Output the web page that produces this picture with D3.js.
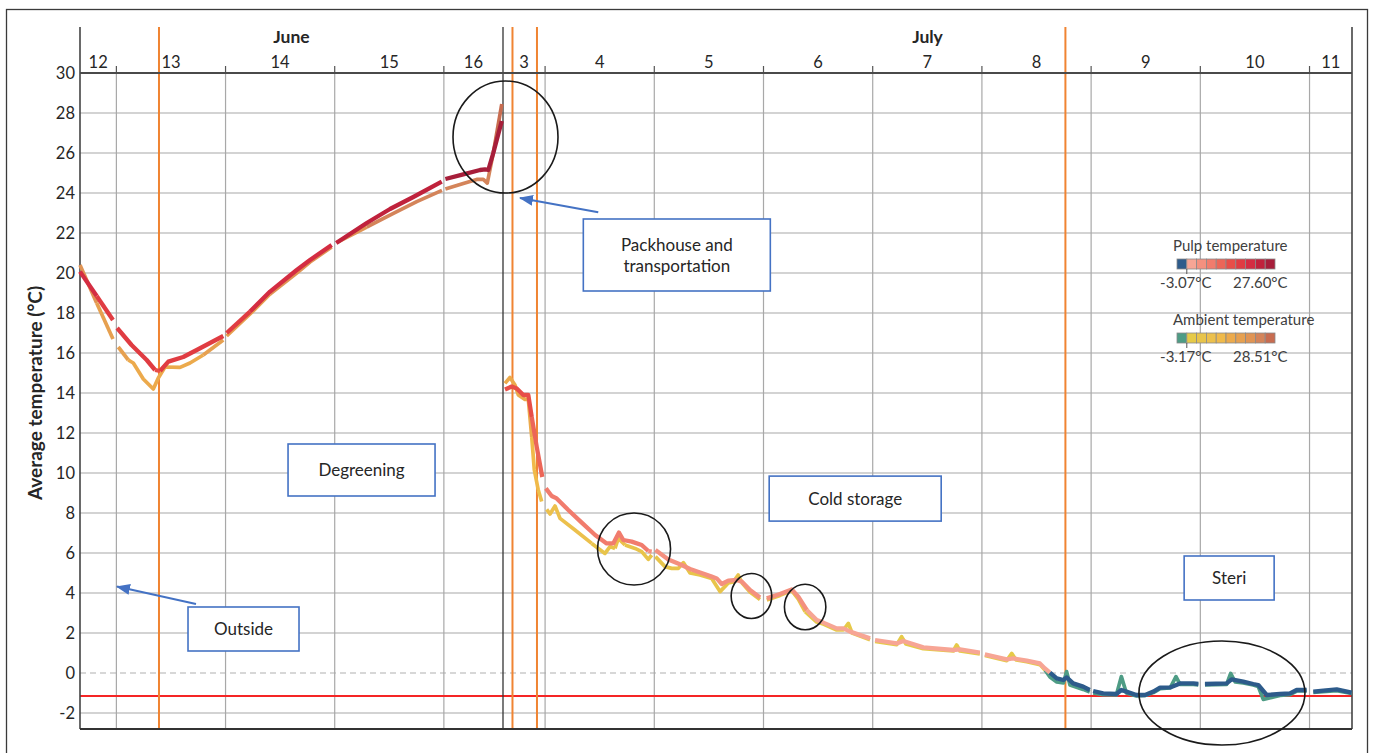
<!DOCTYPE html>
<html>
<head>
<meta charset="utf-8">
<script src="https://cdnjs.cloudflare.com/ajax/libs/d3/7.8.5/d3.min.js"></script>
<style>
  body { margin: 0; background: #fff; }
  svg { display: block; font-family: Lato, "Open Sans", sans-serif; }
</style>
</head>
<body>
<svg id="chart" width="1375" height="753"></svg>
<script>
const parse = d3.timeParse("%m-%d %H:%M");

// two logged periods, drawn side by side
const periods = [["06-12 16:00", "06-16 13:00"], ["07-03 14:45", "07-11 09:20"]];
const months = ["June", "July"];
const yTicks = d3.range(-2, 31, 2);
const stageLines = ["06-13 09:22", "07-03 16:50", "07-03 22:13", "07-08 18:21"];
const limitTemp = -1.15;

const pulpColors = ["#2d5b8b", "#f7a595", "#f4907f", "#f17c6d", "#ec6658", "#e84e48", "#e03c42", "#d42d42", "#c0223c", "#a71e3a"];
const ambientColors = ["#4e9c85", "#e6ca48", "#e8c44a", "#ecc04c", "#f0ba4a", "#ecaa4c", "#e6a050", "#e09454", "#d4845a", "#c86c50"];
const pulpRange = [-3.07, 27.60];
const ambientRange = [-3.17, 28.51];

const pulp = [
  ["06-12 16:00", 20.07], ["06-12 19:40", 18.85], ["06-12 23:15", 17.65],
  ["06-13 00:10", 17.25], ["06-13 03:20", 16.4], ["06-13 06:40", 15.65], ["06-13 08:30", 15.15], ["06-13 09:36", 15.1], ["06-13 11:25", 15.57], ["06-13 14:42", 15.8], ["06-13 17:40", 16.15], ["06-13 20:35", 16.5], ["06-13 23:30", 16.85],
  ["06-14 00:15", 17.0], ["06-14 05:23", 18.07], ["06-14 09:47", 19.07], ["06-14 15:39", 20.15], ["06-14 18:34", 20.65], ["06-14 23:20", 21.4],
  ["06-15 00:20", 21.5], ["06-15 07:02", 22.5], ["06-15 12:10", 23.2], ["06-15 17:17", 23.8], ["06-15 23:32", 24.57],
  ["06-16 00:20", 24.7], ["06-16 04:16", 24.93], ["06-16 07:57", 25.15], ["06-16 09:03", 25.18], ["06-16 09:46", 25.15], ["06-16 10:52", 26.0], ["06-16 12:44", 27.6],
  ["07-03 15:11", 14.18], ["07-03 16:40", 14.32], ["07-03 17:46", 14.23], ["07-03 19:13", 13.9], ["07-03 20:19", 13.9], ["07-03 21:04", 12.8], ["07-03 22:10", 11.3], ["07-03 23:23", 9.8],
  ["07-04 00:10", 9.23], ["07-04 01:27", 8.85], ["07-04 02:33", 8.73], ["07-04 05:06", 8.15], ["07-04 08:03", 7.52], ["07-04 11:00", 6.9], ["07-04 13:32", 6.48], ["07-04 14:59", 6.48], ["07-04 16:14", 7.02], ["07-04 17:11", 6.65], ["07-04 19:02", 6.57], ["07-04 21:14", 6.4], ["07-04 22:41", 6.1], ["07-04 23:26", 6.07],
  ["07-05 00:15", 6.15], ["07-05 03:05", 5.68], ["07-05 06:01", 5.4], ["07-05 07:51", 5.2], ["07-05 10:03", 5.02], ["07-05 12:37", 4.82], ["07-05 13:43", 4.73], ["07-05 14:49", 4.45], ["07-05 16:16", 4.62], ["07-05 18:07", 4.65], ["07-05 19:13", 4.57], ["07-05 21:02", 4.15], ["07-05 23:14", 3.78],
  ["07-06 00:43", 3.73], ["07-06 03:38", 3.95], ["07-06 06:12", 4.18], ["07-06 07:39", 3.82], ["07-06 09:30", 3.15], ["07-06 11:42", 2.65], ["07-06 13:09", 2.52], ["07-06 16:05", 2.23], ["07-06 17:33", 2.23], ["07-06 19:01", 2.07], ["07-06 23:25", 1.73],
  ["07-07 00:31", 1.65], ["07-07 05:17", 1.48], ["07-07 06:44", 1.6], ["07-07 11:07", 1.28], ["07-07 17:43", 1.15], ["07-07 19:11", 1.18], ["07-07 23:33", 1.02],
  ["07-08 00:39", 0.93], ["07-08 05:27", 0.68], ["07-08 06:54", 0.73], ["07-08 09:51", 0.62], ["07-08 12:45", 0.48], ["07-08 13:51", 0.23], ["07-08 14:57", 0.02], ["07-08 16:27", -0.27], ["07-08 17:54", -0.35], ["07-08 18:37", -0.22], ["07-08 20:03", -0.52], ["07-08 22:15", -0.68], ["07-08 23:42", -0.85],
  ["07-09 00:27", -0.9], ["07-09 02:39", -1.02], ["07-09 05:33", -1.05], ["07-09 06:39", -0.85], ["07-09 07:45", -0.93], ["07-09 09:57", -1.1], ["07-09 11:51", -1.1], ["07-09 13:41", -0.93], ["07-09 15:09", -0.73], ["07-09 17:21", -0.72], ["07-09 19:33", -0.52], ["07-09 22:28", -0.52], ["07-09 23:34", -0.55],
  ["07-10 01:01", -0.55], ["07-10 05:47", -0.52], ["07-10 06:53", -0.32], ["07-10 09:26", -0.43], ["07-10 11:38", -0.55], ["07-10 12:44", -0.6], ["07-10 14:35", -1.1], ["07-10 17:30", -1.05], ["07-10 19:42", -1.02], ["07-10 21:10", -0.85], ["07-10 23:22", -0.85],
  ["07-11 00:50", -0.93], ["07-11 03:02", -0.88], ["07-11 05:58", -0.82], ["07-11 09:16", -0.98]
];

const ambient = [
  ["06-12 16:00", 20.4], ["06-12 19:40", 18.5], ["06-12 23:15", 16.7],
  ["06-13 00:25", 16.3], ["06-13 02:37", 15.65], ["06-13 03:43", 15.5], ["06-13 05:55", 14.7], ["06-13 08:07", 14.2], ["06-13 09:13", 14.75], ["06-13 10:41", 15.3], ["06-13 14:00", 15.28], ["06-13 16:11", 15.5], ["06-13 19:06", 15.9], ["06-13 23:30", 16.65],
  ["06-14 00:15", 16.85], ["06-14 05:23", 17.95], ["06-14 09:47", 18.95], ["06-14 15:39", 20.0], ["06-14 18:34", 20.55], ["06-14 23:20", 21.3],
  ["06-15 00:25", 21.52], ["06-15 07:02", 22.3], ["06-15 12:54", 22.98], ["06-15 18:02", 23.57], ["06-15 23:35", 24.13],
  ["06-16 00:20", 24.2], ["06-16 04:16", 24.48], ["06-16 07:13", 24.68], ["06-16 08:40", 24.68], ["06-16 09:33", 24.5], ["06-16 10:52", 26.0], ["06-16 12:44", 28.45],
  ["07-03 15:11", 14.48], ["07-03 16:17", 14.78], ["07-03 17:23", 14.4], ["07-03 18:07", 13.9], ["07-03 19:35", 13.68], ["07-03 20:19", 13.68], ["07-03 21:04", 11.8], ["07-03 21:38", 10.15], ["07-03 22:30", 9.15], ["07-03 23:15", 8.57],
  ["07-04 00:21", 8.18], ["07-04 01:05", 7.95], ["07-04 02:11", 8.35], ["07-04 03:17", 7.73], ["07-04 06:34", 7.15], ["07-04 10:15", 6.48], ["07-04 13:10", 5.98], ["07-04 14:16", 6.32], ["07-04 15:22", 6.23], ["07-04 16:05", 6.73], ["07-04 17:34", 6.4], ["07-04 19:46", 6.23], ["07-04 21:14", 6.07], ["07-04 22:41", 5.68], ["07-04 23:26", 5.9],
  ["07-05 00:15", 5.82], ["07-05 02:21", 5.32], ["07-05 03:50", 5.23], ["07-05 05:17", 5.23], ["07-05 06:23", 5.52], ["07-05 07:51", 5.0], ["07-05 10:03", 4.9], ["07-05 12:37", 4.72], ["07-05 14:27", 4.07], ["07-05 16:16", 4.5], ["07-05 17:20", 4.55], ["07-05 18:26", 4.9], ["07-05 19:18", 4.5], ["07-05 21:02", 4.05], ["07-05 23:14", 3.68],
  ["07-06 00:43", 3.65], ["07-06 03:38", 3.88], ["07-06 06:12", 4.12], ["07-06 07:39", 3.7], ["07-06 09:09", 3.07], ["07-06 11:42", 2.55], ["07-06 13:09", 2.45], ["07-06 16:05", 2.15], ["07-06 17:33", 2.15], ["07-06 18:39", 2.48], ["07-06 19:28", 2.0], ["07-06 23:25", 1.66],
  ["07-07 00:31", 1.58], ["07-07 05:17", 1.42], ["07-07 06:21", 1.82], ["07-07 07:18", 1.45], ["07-07 11:07", 1.22], ["07-07 17:43", 1.1], ["07-07 18:27", 1.4], ["07-07 19:11", 1.1], ["07-07 23:33", 0.96],
  ["07-08 00:39", 0.88], ["07-08 05:27", 0.62], ["07-08 06:34", 0.98], ["07-08 07:28", 0.66], ["07-08 09:51", 0.57], ["07-08 12:45", 0.42], ["07-08 13:51", 0.15], ["07-08 14:57", -0.2], ["07-08 16:27", -0.45], ["07-08 17:54", -0.5], ["07-08 18:37", 0.07], ["07-08 19:21", -0.6], ["07-08 22:15", -0.82], ["07-08 23:42", -0.95],
  ["07-09 00:27", -1.0], ["07-09 02:39", -1.08], ["07-09 05:33", -1.1], ["07-09 06:39", -0.18], ["07-09 07:45", -1.0], ["07-09 09:57", -1.15], ["07-09 11:51", -1.12], ["07-09 13:41", -0.98], ["07-09 15:09", -0.78], ["07-09 17:21", -0.75], ["07-09 18:39", -0.18], ["07-09 19:33", -0.57], ["07-09 22:28", -0.57], ["07-09 23:34", -0.6],
  ["07-10 01:01", -0.6], ["07-10 05:47", -0.57], ["07-10 06:40", -0.02], ["07-10 07:39", -0.45], ["07-10 09:26", -0.5], ["07-10 11:38", -0.6], ["07-10 12:44", -0.68], ["07-10 13:50", -1.32], ["07-10 17:30", -1.12], ["07-10 19:42", -1.08], ["07-10 21:10", -0.9], ["07-10 23:22", -0.9],
  ["07-11 00:50", -0.97], ["07-11 03:02", -0.93], ["07-11 05:58", -0.88], ["07-11 09:16", -1.02]
];

// text boxes, anchored at their centre (time, temperature)
const notes = [
  { lines: ["Packhouse and", "transportation"], t: "07-05 04:57", v: 20.9, w: 187, h: 72 },
  { lines: ["Degreening"], t: "06-15 05:54", v: 10.15, w: 147, h: 52 },
  { lines: ["Cold storage"], t: "07-06 20:09", v: 8.72, w: 172, h: 45 },
  { lines: ["Steri"], t: "07-10 06:20", v: 4.75, w: 90, h: 44 },
  { lines: ["Outside"], t: "06-14 03:57", v: 2.2, w: 111, h: 44 }
];
const arrows = [
  { from: ["07-04 11:41", 23.04], to: ["07-03 18:29", 23.75] },
  { from: ["06-13 17:30", 3.45], to: ["06-13 00:08", 4.32] }
];
const rings = [
  { t: "07-03 15:18", v: 26.8, rx: 52.5, ry: 56 },
  { t: "07-04 19:33", v: 6.2, rx: 36.5, ry: 36 },
  { t: "07-05 21:21", v: 3.85, rx: 20.3, ry: 22.5 },
  { t: "07-06 09:09", v: 3.3, rx: 20.7, ry: 22.8 },
  { t: "07-10 04:45", v: -1.0, rx: 83, ry: 52 }
];

const svg = d3.select("#chart");
const top0 = 27, plotTop = 73, plotBottom = 729, left = 80, right = 1352, split = 503;

const P = periods.map(p => p.map(parse));
const x = d3.scaleTime()
  .domain([P[0][0], P[0][1], P[1][0], P[1][1]])
  .range([left, split, split, right]);
const y = d3.scaleLinear().domain([-2.8, 30]).range([plotBottom, plotTop]);

const pulpColor = d3.scaleQuantize().domain(pulpRange).range(pulpColors);
const ambientColor = d3.scaleQuantize().domain(ambientRange).range(ambientColors);

// outer frame
svg.append("rect").attr("x", 6.5).attr("y", 9.5).attr("width", 1361).attr("height", 760)
  .attr("fill", "none").attr("stroke", "#3a3a3a").attr("stroke-width", 1.3);

// horizontal grid
svg.append("g").selectAll("line").data(yTicks).join("line")
  .attr("x1", left).attr("x2", right)
  .attr("y1", d => y(d)).attr("y2", d => y(d))
  .attr("stroke", d => d === 0 ? "#b0b0b0" : "#c4c4c4")
  .attr("stroke-width", d => d === 0 ? 1.2 : 1.5)
  .attr("stroke-dasharray", d => d === 0 ? "6,4" : null);

// midnight grid + ticks
const midnights = P.flatMap(([a, b]) => d3.timeDay.range(a, b));
svg.append("g").selectAll("line").data(midnights).join("line")
  .attr("x1", d => x(d)).attr("x2", d => x(d))
  .attr("y1", plotTop).attr("y2", plotBottom)
  .attr("stroke", "#a8a8a8").attr("stroke-width", 1.2);
svg.append("g").selectAll("line").data(midnights).join("line")
  .attr("x1", d => x(d)).attr("x2", d => x(d))
  .attr("y1", plotTop - 7).attr("y2", plotTop)
  .attr("stroke", "#555").attr("stroke-width", 1.2);

// limit line
svg.append("line").attr("x1", left).attr("x2", right)
  .attr("y1", y(limitTemp)).attr("y2", y(limitTemp))
  .attr("stroke", "#f52525").attr("stroke-width", 2);

// stage change lines
svg.append("g").selectAll("line").data(stageLines.map(parse)).join("line")
  .attr("x1", d => x(d)).attr("x2", d => x(d))
  .attr("y1", top0).attr("y2", plotBottom)
  .attr("stroke", "#f08432").attr("stroke-width", 2);

// frame lines of the plot
const frame = svg.append("g").attr("fill", "none");
frame.append("line").attr("x1", left).attr("x2", left).attr("y1", top0).attr("y2", plotBottom).attr("stroke", "#444").attr("stroke-width", 1.6);
frame.append("line").attr("x1", right).attr("x2", right).attr("y1", top0).attr("y2", plotBottom).attr("stroke", "#444").attr("stroke-width", 1.6);
frame.append("line").attr("x1", split).attr("x2", split).attr("y1", top0).attr("y2", plotBottom).attr("stroke", "#333").attr("stroke-width", 1.3);
frame.append("line").attr("x1", left).attr("x2", right).attr("y1", plotTop).attr("y2", plotTop).attr("stroke", "#4a4a4a").attr("stroke-width", 2);
frame.append("line").attr("x1", left).attr("x2", right).attr("y1", plotBottom).attr("y2", plotBottom).attr("stroke", "#333").attr("stroke-width", 2);

// day labels centred in the visible part of each day
const dayLabels = P.flatMap(([a, b]) => d3.timeDay.range(d3.timeDay.floor(a), b).map(d => {
  const s = d < a ? a : d, e = d3.timeDay.offset(d, 1) > b ? b : d3.timeDay.offset(d, 1);
  return { d, cx: (x(s) + x(e)) / 2 };
}));
svg.append("g").selectAll("text").data(dayLabels).join("text")
  .attr("x", d => d.cx).attr("y", 68)
  .attr("text-anchor", "middle").attr("font-size", 16.5).attr("fill", "#262626")
  .text(d => d3.timeFormat("%-d")(d.d));

svg.append("g").selectAll("text").data(months).join("text")
  .attr("x", (d, i) => (x(P[i][0]) + x(P[i][1])) / 2).attr("y", 43)
  .attr("text-anchor", "middle").attr("font-size", 17.5).attr("font-weight", "bold").attr("fill", "#262626")
  .text(d => d);

// y tick labels
svg.append("g").selectAll("text").data(yTicks).join("text")
  .attr("x", 75).attr("y", d => y(d)).attr("dy", "0.36em")
  .attr("text-anchor", "end").attr("font-size", 16.5).attr("fill", "#262626")
  .text(d => d);

svg.append("text")
  .attr("transform", "translate(41.5,393) rotate(-90)")
  .attr("text-anchor", "middle").attr("font-size", 19).attr("font-weight", "bold").attr("fill", "#262626")
  .text("Average temperature (°C)");

// value-coloured series, broken at midnight
const line = d3.line().x(d => x(d.t)).y(d => y(d.v));
function drawSeries(data, color, width) {
  const pts = data.map(([t, v]) => ({ t: parse(t), v }));
  const runs = [];
  let cur = null;
  for (let i = 1; i < pts.length; i++) {
    const a = pts[i - 1], b = pts[i];
    if (+d3.timeDay.floor(a.t) !== +d3.timeDay.floor(b.t)) { cur = null; continue; }
    const c = color((a.v + b.v) / 2);
    if (cur && cur.c === c) cur.pts.push(b);
    else { cur = { c, pts: [a, b] }; runs.push(cur); }
  }
  svg.append("g").selectAll("path").data(runs).join("path")
    .attr("d", r => line(r.pts))
    .attr("fill", "none").attr("stroke", r => r.c)
    .attr("stroke-width", width).attr("stroke-linejoin", "round");
}
drawSeries(ambient, ambientColor, 3.7);
drawSeries(pulp, pulpColor, 4.3);

// rings
svg.append("g").selectAll("ellipse").data(rings).join("ellipse")
  .attr("cx", d => x(parse(d.t))).attr("cy", d => y(d.v))
  .attr("rx", d => d.rx).attr("ry", d => d.ry)
  .attr("fill", "none").attr("stroke", "#1a1a1a").attr("stroke-width", 1.6);

// arrows
svg.append("defs").append("marker")
  .attr("id", "head").attr("markerUnits", "userSpaceOnUse")
  .attr("markerWidth", 14).attr("markerHeight", 12)
  .attr("refX", 13).attr("refY", 5.5).attr("orient", "auto")
  .append("path").attr("d", "M0,0L14,5.5L0,11Z").attr("fill", "#4472c4");
svg.append("g").selectAll("line").data(arrows).join("line")
  .attr("x1", d => x(parse(d.from[0]))).attr("y1", d => y(d.from[1]))
  .attr("x2", d => x(parse(d.to[0]))).attr("y2", d => y(d.to[1]))
  .attr("stroke", "#4472c4").attr("stroke-width", 2)
  .attr("marker-end", "url(#head)");

// text boxes
const note = svg.append("g").selectAll("g").data(notes).join("g")
  .attr("transform", d => `translate(${x(parse(d.t))},${y(d.v)})`);
note.append("rect")
  .attr("x", d => -d.w / 2).attr("y", d => -d.h / 2)
  .attr("width", d => d.w).attr("height", d => d.h)
  .attr("fill", "#fff").attr("stroke", "#4472c4").attr("stroke-width", 1.6);
note.append("text")
  .attr("text-anchor", "middle").attr("font-size", 17).attr("fill", "#262626")
  .selectAll("tspan").data(d => d.lines.map((s, i) => ({ s, i, n: d.lines.length }))).join("tspan")
  .attr("x", 0).attr("y", d => (d.i - (d.n - 1) / 2) * 21).attr("dy", "0.36em")
  .text(d => d.s);

// colour legends
const legends = [
  { title: "Pulp temperature", colors: pulpColors, range: pulpRange, top: 246 },
  { title: "Ambient temperature", colors: ambientColors, range: ambientRange, top: 320 }
];
const lx = d3.scaleLinear().domain([0, 10]).range([1177, 1275]);
const lg = svg.append("g").selectAll("g").data(legends).join("g")
  .attr("transform", d => `translate(0,${d.top})`);
lg.append("text").attr("x", 1173).attr("y", 5).attr("font-size", 15).attr("fill", "#404040").text(d => d.title);
lg.selectAll("rect").data(d => d.colors).join("rect")
  .attr("x", (d, i) => lx(i)).attr("y", 13)
  .attr("width", lx(1) - lx(0)).attr("height", 10)
  .attr("fill", d => d).attr("stroke", "#8a8a8a").attr("stroke-width", 0.8);
lg.append("line").attr("x1", lx(1)).attr("x2", lx(1)).attr("y1", 23).attr("y2", 28)
  .attr("stroke", "#555").attr("stroke-width", 1);
lg.append("text").attr("x", lx(0.9)).attr("y", 42).attr("text-anchor", "middle")
  .attr("font-size", 15).attr("fill", "#404040").text(d => d.range[0].toFixed(2) + "°C");
lg.append("text").attr("x", lx(8.5)).attr("y", 42).attr("text-anchor", "middle")
  .attr("font-size", 15).attr("fill", "#404040").text(d => d.range[1].toFixed(2) + "°C");
</script>
</body>
</html>
